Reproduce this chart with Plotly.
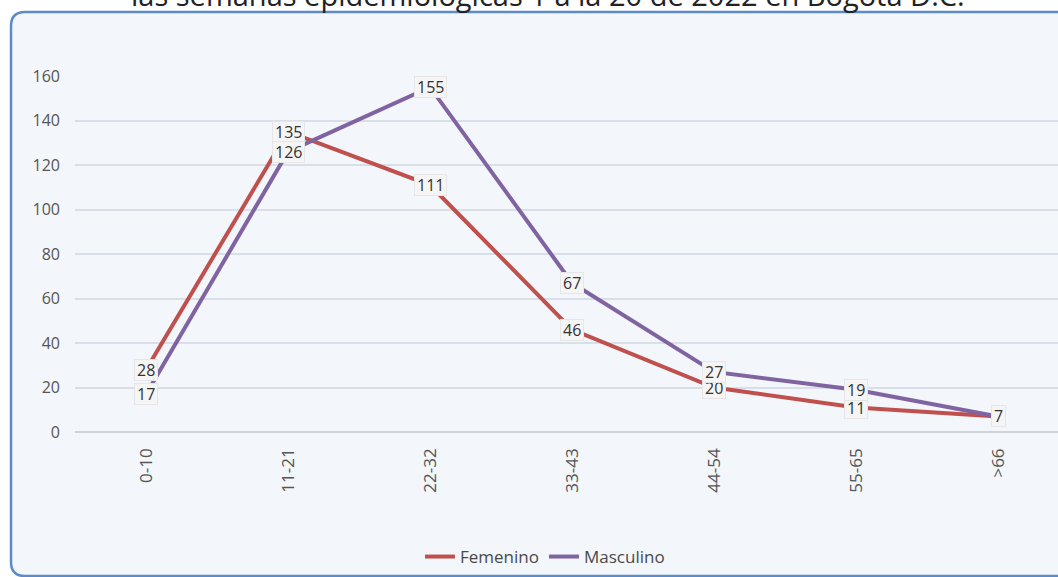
import plotly.graph_objects as go

categories = ["0-10", "11-21", "22-32", "33-43", "44-54", "55-65", ">66"]
femenino = [28, 135, 111, 46, 20, 11, 7]
masculino = [17, 126, 155, 67, 27, 19, 7]
y_ticks = [0, 20, 40, 60, 80, 100, 120, 140, 160]
title_text = "las semanas epidemiológicas 1 a la 20 de 2022 en Bogotá D.C."

W, H = 1058, 577
ML, MR, MT, MB = 75, 0, 76, 145
PW, PH = W - ML - MR, H - MT - MB

def px_x(p):
    return (p - ML) / PW

def px_y(p):
    return (H - MB - p) / PH

FONT = "'Open Sans', 'Noto Sans', sans-serif"
RED = "#c0504d"
PURPLE = "#8064a2"

fig = go.Figure()
fig.add_trace(go.Scatter(x=categories, y=femenino, name="Femenino", mode="lines",
                         line=dict(color=RED, width=4)))
fig.add_trace(go.Scatter(x=categories, y=masculino, name="Masculino", mode="lines",
                         line=dict(color=PURPLE, width=4)))

annotations = []
for series in (femenino, masculino):
    for c, v in zip(categories, series):
        annotations.append(dict(x=c, y=v, xref="x", yref="y", text=str(v), showarrow=False,
                                font=dict(family=FONT, size=16, color="#333333"),
                                bgcolor="#f5f5f5", bordercolor="#e6e6e6", borderwidth=1,
                                borderpad=2, height=16, xanchor="center", yanchor="middle"))
annotations.append(dict(x=px_x(548), y=px_y(-6), xref="paper", yref="paper", text=title_text,
                        showarrow=False, font=dict(family=FONT, size=29, color="#222222"),
                        xanchor="center", yanchor="middle"))

# rounded frame
x0, x1, y0, y1, r = 11, 1075, 12, 576, 14
path = (f"M {px_x(x0+r)},{px_y(y0)} L {px_x(x1)},{px_y(y0)} L {px_x(x1)},{px_y(y1)} "
        f"L {px_x(x0+r)},{px_y(y1)} Q {px_x(x0)},{px_y(y1)} {px_x(x0)},{px_y(y1-r)} "
        f"L {px_x(x0)},{px_y(y0+r)} Q {px_x(x0)},{px_y(y0)} {px_x(x0+r)},{px_y(y0)} Z")

fig.update_layout(
    width=W, height=H,
    margin=dict(l=ML, r=MR, t=MT, b=MB, autoexpand=False),
    paper_bgcolor="white",
    plot_bgcolor="rgba(0,0,0,0)",
    font=dict(family=FONT, color="#555555"),
    shapes=[dict(type="path", path=path, xref="paper", yref="paper", layer="below",
                 fillcolor="#f3f6fa", line=dict(color="#5b8bc9", width=2.5))],
    annotations=annotations,
    showlegend=True,
    legend=dict(orientation="h", x=px_x(545), y=px_y(557), xanchor="center", yanchor="middle",
                font=dict(family=FONT, size=17, color="#4a4a4a"), bgcolor="rgba(0,0,0,0)",
                itemwidth=30, tracegroupgap=0),
    xaxis=dict(type="category", categoryorder="array", categoryarray=categories,
               range=[-0.5, -0.5 + PW / 142.0], showgrid=False, zeroline=False,
               showline=False, ticks="", tickangle=-90, ticklabelstandoff=12,
               tickfont=dict(family=FONT, size=17, color="#555555")),
    yaxis=dict(range=[0, 160], tickvals=y_ticks, showgrid=True, gridcolor="#d9dfe8",
               gridwidth=1.5, zeroline=True, zerolinecolor="#cfd3d8", zerolinewidth=2,
               showline=False, ticks="", ticklabelstandoff=14,
               tickfont=dict(family=FONT, size=16, color="#555555")),
)

fig.write_html("out.html", config={"displayModeBar": False},
               post_script="document.body.style.margin='0';document.body.style.overflow='hidden';")
